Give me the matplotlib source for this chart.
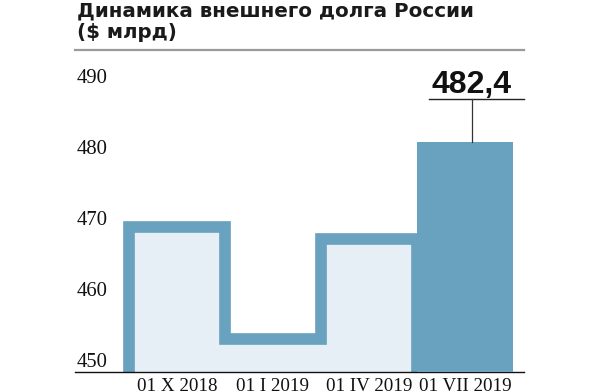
import matplotlib
matplotlib.use("Agg")
import matplotlib.pyplot as plt
import matplotlib.transforms as mtransforms

# ---- data ----
categories = ["01 X 2018", "01 I 2019", "01 IV 2019", "01 VII 2019"]
values = [470.4, 454.6, 468.7, 482.4]
yticks = [450, 460, 470, 480, 490]
title_lines = ["Динамика внешнего долга России", "($ млрд)"]
highlight_label = "482,4"

DARK = "#69a2bf"
LIGHT = "#e7eff6"

W, H = 600, 392
fig = plt.figure(figsize=(W / 100, H / 100), dpi=100)
base_px, top_px, left_px, right_px = 371.7, 50, 75, 524
ax = fig.add_axes([left_px / W, 1 - base_px / H, (right_px - left_px) / W, (base_px - top_px) / H])

ppu = 7.1  # pixels per unit
ymin = yticks[0]
ax.set_ylim(ymin, ymin + (base_px - top_px) / ppu)
ax.set_xlim((left_px - 177) / 96, (right_px - 177) / 96)

n = len(values)
x = list(range(n))

# light fills for all but last
ax.bar(x[:-1], [v - ymin for v in values[:-1]], bottom=ymin, width=1.0,
       color=LIGHT, linewidth=0, zorder=1)

# step outline
xs, ys = [x[0] - 0.5], [ymin]
for i, v in enumerate(values[:-1]):
    xs += [i - 0.5, i + 0.5]
    ys += [v, v]
xs.append(x[-2] + 0.5)
ys.append(ymin)
ax.plot(xs, ys, color=DARK, lw=8.4, solid_joinstyle="miter",
        solid_capstyle="butt", zorder=2)

# last highlighted bar
ax.bar(x[-1], values[-1] - ymin, bottom=ymin, width=1.0, color=DARK,
       linewidth=0, zorder=3)

# annotation
xa = x[-1] + 0.07
y_rule = ymin + (base_px - 99.3) / ppu
ax.plot([x[-1] - 0.375, x[-1] + 0.615], [y_rule, y_rule], color="#222222",
        lw=1.0, clip_on=False, zorder=4)
ax.plot([xa, xa], [values[-1], y_rule], color="#333333", lw=0.9, zorder=4)
ax.text(xa, ymin + (base_px - 93.3) / ppu, highlight_label, ha="center",
        va="baseline", fontsize=23, fontweight="bold",
        family="Liberation Sans", color="#111111", zorder=5)

# spines
for s in ["left", "right"]:
    ax.spines[s].set_visible(False)
ax.spines["bottom"].set_color("#111111")
ax.spines["bottom"].set_linewidth(1.0)
ax.spines["top"].set_color("#9a9a9a")
ax.spines["top"].set_linewidth(1.6)

ax.set_yticks([])
ax.set_xticks(x)
ax.set_xticklabels(categories, family="Liberation Serif", fontsize=13.7,
                   color="#111111")
ax.tick_params(axis="x", length=0, pad=4.5)

# y labels placed just above their value
trans = mtransforms.blended_transform_factory(ax.transAxes, ax.transData)
trans = mtransforms.offset_copy(trans, fig=fig, x=0, y=4.7 / 100, units="inches")
for t in yticks:
    ax.text(2 / (right_px - left_px), t, str(t), transform=trans, ha="left",
            va="baseline", family="Liberation Serif", fontsize=14.9,
            color="#111111")

for line, base in zip(title_lines, [16.5, 38.5]):
    fig.text(77 / W, 1 - base / H, line, ha="left", va="baseline",
             family="DejaVu Sans", fontweight="bold", fontsize=14.3,
             color="#1a1a1a")

fig.savefig("out.png", dpi=100)
